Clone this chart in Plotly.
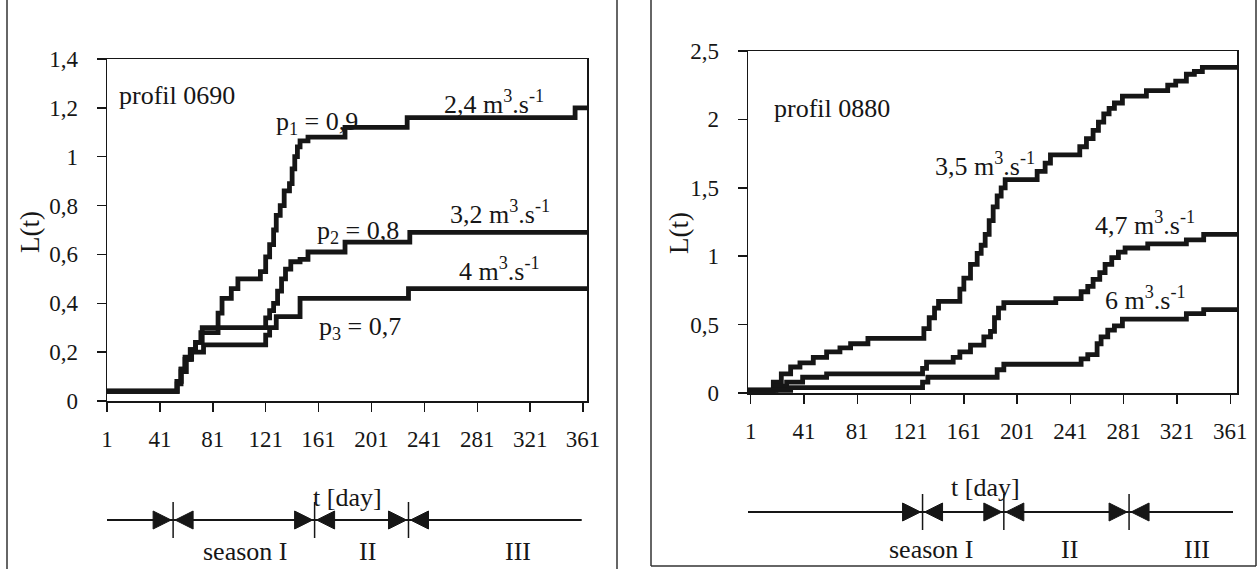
import plotly.graph_objects as go

W, H = 1259, 569
FONT = "Liberation Serif"
INK = "#161616"

# ---------------- data : profil 0690 (left panel) ----------------
left_days_24 = [1, 54, 57, 60, 64, 68, 72, 85, 88, 95, 100, 117, 121, 124, 127, 129, 132, 135, 139, 141, 143, 145, 147, 153, 181, 228, 355, 364]
left_L_24 = [0.04, 0.08, 0.13, 0.18, 0.21, 0.24, 0.28, 0.36, 0.42, 0.46, 0.50, 0.53, 0.59, 0.64, 0.70, 0.76, 0.80, 0.86, 0.89, 0.95, 1.00, 1.04, 1.065, 1.08, 1.12, 1.16, 1.20, 1.20]

left_days_32 = [1, 54, 57, 60, 64, 68, 73, 121, 124, 127, 130, 133, 136, 140, 147, 153, 181, 230, 364]
left_L_32 = [0.04, 0.08, 0.13, 0.17, 0.21, 0.24, 0.30, 0.34, 0.37, 0.40, 0.45, 0.50, 0.54, 0.57, 0.58, 0.61, 0.65, 0.69, 0.69]

left_days_4 = [1, 54, 57, 61, 65, 74, 121, 124, 129, 147, 229, 364]
left_L_4 = [0.04, 0.07, 0.12, 0.17, 0.20, 0.23, 0.27, 0.30, 0.345, 0.42, 0.46, 0.46]

# ---------------- data : profil 0880 (right panel) ----------------
right_days_35 = [-1, 18, 24, 31, 38, 48, 58, 68, 76, 89, 131, 135, 139, 142, 158, 161, 166, 171, 174, 177, 180, 183, 186, 189, 192, 216, 222, 226, 248, 253, 258, 262, 266, 270, 274, 280, 298, 314, 320, 328, 334, 340, 366]
right_L_35 = [0.02, 0.08, 0.14, 0.19, 0.22, 0.26, 0.30, 0.33, 0.36, 0.40, 0.47, 0.55, 0.62, 0.67, 0.76, 0.84, 0.94, 1.02, 1.08, 1.16, 1.26, 1.36, 1.44, 1.50, 1.56, 1.62, 1.68, 1.74, 1.80, 1.86, 1.92, 1.98, 2.04, 2.08, 2.12, 2.17, 2.21, 2.25, 2.28, 2.33, 2.35, 2.38, 2.38]

right_days_47 = [-1, 20, 28, 40, 58, 130, 133, 153, 158, 166, 176, 181, 184, 187, 191, 230, 249, 254, 258, 263, 267, 272, 277, 282, 299, 328, 341, 366]
right_L_47 = [0.02, 0.05, 0.08, 0.115, 0.14, 0.18, 0.225, 0.26, 0.30, 0.35, 0.41, 0.45, 0.55, 0.62, 0.66, 0.69, 0.74, 0.78, 0.83, 0.88, 0.94, 0.99, 1.03, 1.06, 1.09, 1.12, 1.16, 1.16]

right_days_6 = [-1, 31, 130, 134, 186, 191, 249, 254, 261, 264, 269, 274, 280, 328, 341, 366]
right_L_6 = [0.02, 0.04, 0.08, 0.115, 0.17, 0.21, 0.25, 0.28, 0.36, 0.41, 0.46, 0.49, 0.54, 0.58, 0.61, 0.61]

# axes / ticks
x_ticks = [1, 41, 81, 121, 161, 201, 241, 281, 321, 361]
left_yticks = [0, 0.2, 0.4, 0.6, 0.8, 1.0, 1.2, 1.4]
left_yticktext = ["0", "0,2", "0,4", "0,6", "0,8", "1", "1,2", "1,4"]
right_yticks = [0, 0.5, 1.0, 1.5, 2.0, 2.5]
right_yticktext = ["0", "0,5", "1", "1,5", "2", "2,5"]

# seasons (day boundaries) and bar extent
left_season_bounds = [51, 158, 229]
left_season_bar = [-4, 360]
right_season_bounds = [130, 191, 285]
right_season_bar = [-4, 363]
season_names = ["season I", "II", "III"]
left_season_label_days = [105, 198, 312]
right_season_label_days = [136, 240, 336]

# curve labels (text, day, L)
left_labels = [
    ("profil 0690", 54, 1.25),
    ("p<sub>1</sub> = 0,9", 160, 1.14),
    ("2,4 m<sup>3</sup>.s<sup>-1</sup>", 294, 1.22),
    ("p<sub>2</sub> = 0,8", 191, 0.69),
    ("3,2 m<sup>3</sup>.s<sup>-1</sup>", 298, 0.77),
    ("4 m<sup>3</sup>.s<sup>-1</sup>", 298, 0.54),
    ("p<sub>3</sub> = 0,7", 192, 0.30),
]
right_labels = [
    ("profil 0880", 62, 2.08),
    ("3,5 m<sup>3</sup>.s<sup>-1</sup>", 177, 1.67),
    ("4,7 m<sup>3</sup>.s<sup>-1</sup>", 297, 1.24),
    ("6 m<sup>3</sup>.s<sup>-1</sup>", 297, 0.69),
]


def pap_x(p):
    return p / W


def pap_y(p):
    return 1 - p / H


fig = go.Figure()

for days, vals in [(left_days_24, left_L_24), (left_days_32, left_L_32), (left_days_4, left_L_4)]:
    fig.add_trace(go.Scatter(x=days, y=vals, xaxis="x", yaxis="y", mode="lines",
                             line=dict(shape="hv", color=INK, width=4.8),
                             showlegend=False, hoverinfo="skip"))
for days, vals in [(right_days_35, right_L_35), (right_days_47, right_L_47), (right_days_6, right_L_6)]:
    fig.add_trace(go.Scatter(x=days, y=vals, xaxis="x2", yaxis="y2", mode="lines",
                             line=dict(shape="hv", color=INK, width=4.8),
                             showlegend=False, hoverinfo="skip"))

common = dict(showline=True, linecolor=INK, linewidth=1.5, mirror=True, ticks="outside",
              tickcolor=INK, tickwidth=1.5, ticklen=9, showgrid=False, zeroline=False,
              automargin=False,
              tickfont=dict(family=FONT, size=23, color=INK), fixedrange=True)

fig.update_layout(
    width=W, height=H, autosize=False,
    margin=dict(l=0, r=0, t=0, b=0, pad=0, autoexpand=False),
    paper_bgcolor="white", plot_bgcolor="white",
    xaxis=dict(domain=[pap_x(107), pap_x(587)], range=[1, 364], anchor="y",
               tickvals=x_ticks, ticktext=[str(v) for v in x_ticks], ticklabelstandoff=8, **common),
    yaxis=dict(domain=[pap_y(401), pap_y(59)], range=[0, 1.4], anchor="x",
               tickvals=left_yticks, ticktext=left_yticktext, ticklabelstandoff=14, **common),
    xaxis2=dict(domain=[pap_x(748), pap_x(1237)], range=[-1, 366], anchor="y2",
                tickvals=x_ticks, ticktext=[str(v) for v in x_ticks], ticklabelstandoff=8, **common),
    yaxis2=dict(domain=[pap_y(393), pap_y(51)], range=[0, 2.5], anchor="x2",
                tickvals=right_yticks, ticktext=right_yticktext, ticklabelstandoff=14, **common),
)

shapes = []
frame = dict(color="#333333", width=1.5)
for xp in [7, 617]:
    shapes.append(dict(type="line", xref="paper", yref="paper", x0=pap_x(xp), x1=pap_x(xp),
                       y0=0, y1=1, line=frame))
for xp in [651, 1256]:
    shapes.append(dict(type="line", xref="paper", yref="paper", x0=pap_x(xp), x1=pap_x(xp),
                       y0=pap_y(566), y1=1, line=frame))
shapes.append(dict(type="line", xref="paper", yref="paper", x0=pap_x(651), x1=pap_x(1256),
                   y0=pap_y(566), y1=pap_y(566), line=frame))


def season_bar(xref, bounds, bar, ypix):
    yc = pap_y(ypix)
    shapes.append(dict(type="line", xref=xref, yref="paper", x0=bar[0], x1=bar[1], y0=yc, y1=yc,
                       line=dict(color=INK, width=2)))
    for b in bounds:
        shapes.append(dict(type="line", xref=xref, yref="paper", x0=b, x1=b,
                           y0=pap_y(ypix + 18), y1=pap_y(ypix - 18), line=dict(color=INK, width=1.5)))
        for path in ["M -20,-9 L -2,0 L -20,9 Z", "M 20,-9 L 2,0 L 20,9 Z"]:
            shapes.append(dict(type="path", xref=xref, yref="paper", xsizemode="pixel", ysizemode="pixel",
                               xanchor=b, yanchor=yc, path=path, fillcolor=INK,
                               line=dict(color=INK, width=1)))


season_bar("x", left_season_bounds, left_season_bar, 520)
season_bar("x2", right_season_bounds, right_season_bar, 512)
fig.update_layout(shapes=shapes)

ann = []
tf = dict(family=FONT, size=26, color=INK)


def add_text(text, x, y, xref, yref, font=tf, angle=0):
    ann.append(dict(text=text, x=x, y=y, xref=xref, yref=yref, showarrow=False, font=font,
                    xanchor="center", yanchor="middle", textangle=angle))


for text, d, v in left_labels:
    add_text(text, d, v, "x", "y")
for text, d, v in right_labels:
    add_text(text, d, v, "x2", "y2")

lt_font = dict(family=FONT, size=27, color=INK)
add_text("L(t)", pap_x(30), pap_y(232), "paper", "paper", lt_font, -90)
add_text("L(t)", pap_x(679), pap_y(233), "paper", "paper", lt_font, -90)

add_text("t [day]", 183, pap_y(497), "x", "paper")
add_text("t [day]", 177, pap_y(487), "x2", "paper")
for name, d in zip(season_names, left_season_label_days):
    add_text(name, d, pap_y(551), "x", "paper")
for name, d in zip(season_names, right_season_label_days):
    add_text(name, d, pap_y(549), "x2", "paper")

fig.update_layout(annotations=ann)
fig.write_html("out.html", config={"displayModeBar": False, "staticPlot": True},
               post_script="document.body.style.margin='0';document.body.style.overflow='hidden';")
